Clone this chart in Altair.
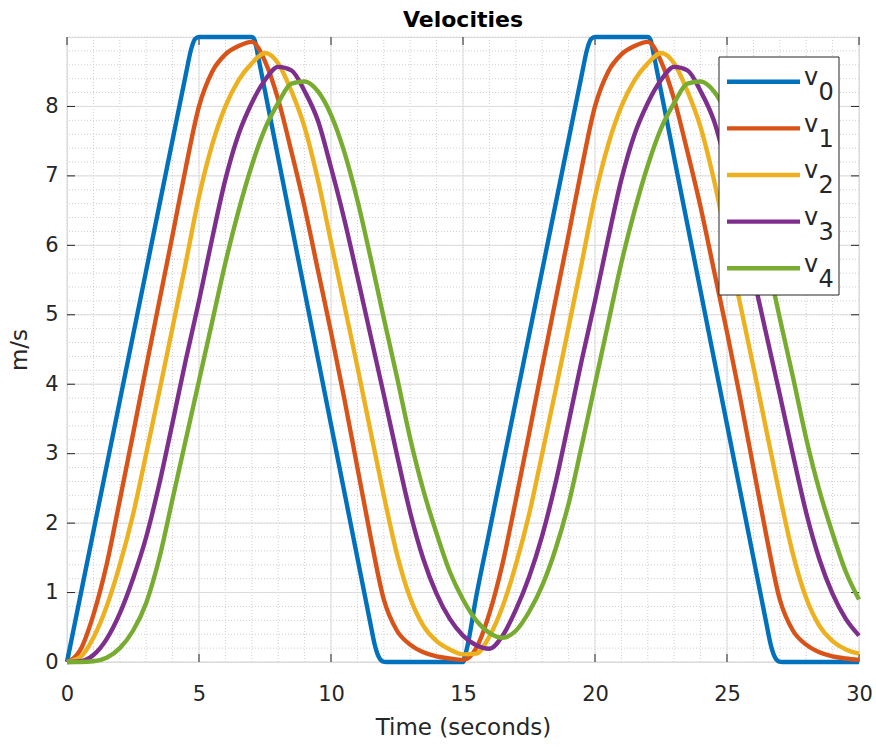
import altair as alt
import pandas as pd

# ---------------- data ----------------
series_names = ["v0", "v1", "v2", "v3", "v4"]
series_colors = ["#0072BD", "#D95319", "#EDB120", "#7E2F8E", "#77AC30"]

# leader (v0) time stamps and velocities
t_lead = [0, 0.5, 1, 1.5, 2, 2.5, 3, 3.5, 4, 4.5, 4.7, 4.85, 5,
          7, 7.1, 7.25, 7.5, 8, 8.5, 9, 9.5, 10, 10.5, 11, 11.5,
          11.65, 11.8, 11.95, 12.1, 15, 15.15,
          15.5, 16, 16.5, 17, 17.5, 18, 18.5, 19, 19.5, 19.7, 19.85, 20,
          22, 22.1, 22.25, 22.5, 23, 23.5, 24, 24.5, 25, 25.5, 26, 26.5,
          26.65, 26.8, 26.95, 27.1, 30]
v0 = [0.0, 0.94, 1.88, 2.82, 3.76, 4.70, 5.64, 6.58, 7.52, 8.46, 8.82, 8.97, 9.0,
      9.0, 8.96, 8.70, 8.22, 7.26, 6.30, 5.34, 4.38, 3.42, 2.46, 1.50, 0.54,
      0.26, 0.08, 0.01, 0.0, 0.0, 0.20,
      0.94, 1.88, 2.82, 3.76, 4.70, 5.64, 6.58, 7.52, 8.46, 8.82, 8.97, 9.0,
      9.0, 8.96, 8.70, 8.22, 7.26, 6.30, 5.34, 4.38, 3.42, 2.46, 1.50, 0.54,
      0.26, 0.08, 0.01, 0.0, 0.0]

# followers time stamps
t_follow = [0.0, 0.5, 1.0, 1.5, 2.0, 2.5, 3.0, 3.5, 4.0, 4.5, 5.0, 5.5, 6.0, 6.5, 7.0, 7.5,
            8.0, 8.5, 9.0, 9.5, 10.0, 10.5, 11.0, 11.5, 12.0, 12.5, 13.0, 13.5, 14.0, 14.5,
            15.0, 15.5, 16.0, 16.5, 17.0, 17.5, 18.0, 18.5, 19.0, 19.5, 20.0, 20.5, 21.0,
            21.5, 22.0, 22.5, 23.0, 23.5, 24.0, 24.5, 25.0, 25.5, 26.0, 26.5, 27.0, 27.5,
            28.0, 28.5, 29.0, 29.5, 30.0]

v1 = [0.00, 0.17, 0.68, 1.40, 2.33, 3.28, 4.25, 5.20, 6.15, 7.12, 8.00, 8.50, 8.75, 8.87, 8.93, 8.65,
      8.10, 7.35, 6.55, 5.65, 4.75, 3.80, 2.80, 1.80, 0.90, 0.45, 0.25, 0.14, 0.08, 0.05,
      0.03, 0.20, 0.70, 1.42, 2.33, 3.28, 4.25, 5.20, 6.15, 7.12, 8.00, 8.50, 8.75,
      8.87, 8.93, 8.65, 8.10, 7.35, 6.55, 5.65, 4.75, 3.80, 2.80, 1.80, 0.90, 0.45,
      0.25, 0.14, 0.08, 0.05, 0.03]

v2 = [0.00, 0.07, 0.35, 0.80, 1.40, 2.12, 3.00, 3.90, 4.82, 5.75, 6.70, 7.45, 8.00, 8.38, 8.62, 8.77,
      8.62, 8.22, 7.70, 6.95, 6.05, 5.15, 4.25, 3.32, 2.40, 1.55, 0.92, 0.52, 0.30, 0.18,
      0.11, 0.12, 0.37, 0.80, 1.40, 2.12, 3.00, 3.90, 4.82, 5.75, 6.70, 7.45, 8.00,
      8.38, 8.62, 8.77, 8.62, 8.22, 7.70, 6.95, 6.05, 5.15, 4.25, 3.32, 2.40, 1.55,
      0.92, 0.52, 0.30, 0.18, 0.12]

v3 = [0.00, 0.01, 0.10, 0.33, 0.70, 1.20, 1.80, 2.57, 3.45, 4.35, 5.20, 6.10, 6.95, 7.60, 8.05, 8.38,
      8.57, 8.52, 8.22, 7.80, 7.12, 6.38, 5.55, 4.70, 3.85, 2.98, 2.15, 1.48, 0.98, 0.62,
      0.38, 0.24, 0.19, 0.38, 0.75, 1.22, 1.82, 2.57, 3.45, 4.35, 5.20, 6.10, 6.95,
      7.60, 8.05, 8.38, 8.57, 8.52, 8.22, 7.80, 7.12, 6.38, 5.55, 4.70, 3.85, 2.98,
      2.15, 1.48, 0.98, 0.62, 0.38]

v4 = [0.00, 0.00, 0.01, 0.06, 0.20, 0.45, 0.85, 1.50, 2.35, 3.20, 4.05, 4.90, 5.75, 6.50, 7.15, 7.68,
      8.05, 8.33, 8.36, 8.22, 7.88, 7.35, 6.65, 5.82, 4.95, 4.10, 3.22, 2.47, 1.85, 1.30,
      0.90, 0.60, 0.42, 0.35, 0.45, 0.72, 1.10, 1.62, 2.28, 3.12, 4.00, 4.88, 5.75,
      6.50, 7.15, 7.68, 8.05, 8.33, 8.36, 8.22, 7.88, 7.35, 6.65, 5.82, 4.95, 4.10,
      3.22, 2.47, 1.85, 1.30, 0.90]

x_major = [0, 5, 10, 15, 20, 25, 30]
y_major = [0, 1, 2, 3, 4, 5, 6, 7, 8]
x_minor = [0, 1, 2, 3, 4, 5, 6, 7, 8, 9, 10, 11, 12, 13, 14, 15, 16, 17, 18, 19, 20,
           21, 22, 23, 24, 25, 26, 27, 28, 29, 30]
y_minor = [0.0, 0.2, 0.4, 0.6, 0.8, 1.0, 1.2, 1.4, 1.6, 1.8, 2.0, 2.2, 2.4, 2.6, 2.8,
           3.0, 3.2, 3.4, 3.6, 3.8, 4.0, 4.2, 4.4, 4.6, 4.8, 5.0, 5.2, 5.4, 5.6, 5.8,
           6.0, 6.2, 6.4, 6.6, 6.8, 7.0, 7.2, 7.4, 7.6, 7.8, 8.0, 8.2, 8.4, 8.6, 8.8, 9.0]

# ---------------- build table ----------------
rows = []
for ti, vi in zip(t_lead, v0):
    rows.append({"t": ti, "v": vi, "s": "v0"})
for name, vals in zip(series_names[1:], [v1, v2, v3, v4]):
    for ti, vi in zip(t_follow, vals):
        rows.append({"t": ti, "v": vi, "s": name})
df = pd.DataFrame(rows)

W, H = 792, 625
FONT = "DejaVu Sans"
TXT = "#262626"
TICK = 8
LW = 4.4

xs = alt.Scale(domain=[0, 30], nice=False, zero=False)
ys = alt.Scale(domain=[0, 9], nice=False, zero=False)

x_axis = alt.Axis(
    values=x_major, title="Time (seconds)", ticks=False, tickSize=0, domain=False,
    grid=False, labelFontSize=21, labelPadding=21, labelColor=TXT, labelFont=FONT,
    labelFlush=False, format="d", titleFontSize=23, titleFont=FONT, titleColor=TXT,
    titleFontWeight="normal", titlePadding=12)
y_axis = alt.Axis(
    values=y_major, title="m/s", ticks=False, tickSize=0, domain=False,
    grid=False, labelFontSize=21, labelPadding=9, labelColor=TXT, labelFont=FONT,
    labelFlush=False, format="d", titleFontSize=23, titleFont=FONT, titleColor=TXT,
    titleFontWeight="normal", titlePadding=13)

X_T = alt.X("t:Q", scale=xs, axis=x_axis, title="Time (seconds)")
Y_V = alt.Y("v:Q", scale=ys, axis=y_axis, title="m/s")


def gx():
    return alt.X("g:Q", scale=xs, axis=x_axis, title="Time (seconds)")


def gy():
    return alt.Y("g:Q", scale=ys, axis=y_axis, title="m/s")


one = alt.Data(values=[{}])

minor_x = alt.Chart(pd.DataFrame({"g": x_minor})).mark_rule(
    color="#cfcfcf", strokeWidth=1, strokeDash=[1, 2]).encode(x=gx())
minor_y = alt.Chart(pd.DataFrame({"g": y_minor})).mark_rule(
    color="#cfcfcf", strokeWidth=1, strokeDash=[1, 2]).encode(y=gy())
major_x = alt.Chart(pd.DataFrame({"g": x_major})).mark_rule(
    color="#dcdcdc", strokeWidth=1).encode(x=gx())
major_y = alt.Chart(pd.DataFrame({"g": y_major})).mark_rule(
    color="#dcdcdc", strokeWidth=1).encode(y=gy())

tick_bottom = alt.Chart(pd.DataFrame({"g": x_major})).mark_rule(color=TXT, strokeWidth=1).encode(
    x=gx(), y=alt.value(H), y2=alt.value(H - TICK))
tick_top = alt.Chart(pd.DataFrame({"g": x_major})).mark_rule(color=TXT, strokeWidth=1).encode(
    x=gx(), y=alt.value(0), y2=alt.value(TICK))
tick_left = alt.Chart(pd.DataFrame({"g": y_major})).mark_rule(color=TXT, strokeWidth=1).encode(
    y=gy(), x=alt.value(0), x2=alt.value(TICK))
tick_right = alt.Chart(pd.DataFrame({"g": y_major})).mark_rule(color=TXT, strokeWidth=1).encode(
    y=gy(), x=alt.value(W), x2=alt.value(W - TICK))

lines = alt.Chart(df).mark_line(strokeWidth=LW, interpolate="monotone").encode(
    x=X_T, y=Y_V,
    color=alt.Color("s:N", scale=alt.Scale(domain=series_names, range=series_colors), legend=None),
)

# ---------------- legend (drawn by hand) ----------------
LX0, LX1, LY0, LY1 = 652, 772, 20, 258
legend_layers = [
    alt.Chart(one).mark_rect(fill="white", stroke=TXT, strokeWidth=1).encode(
        x=alt.value(LX0), x2=alt.value(LX1), y=alt.value(LY0), y2=alt.value(LY1))
]
for i, (name, col) in enumerate(zip(series_names, series_colors)):
    ly = 44.7 + i * 46.65
    legend_layers.append(alt.Chart(one).mark_rule(color=col, strokeWidth=LW).encode(
        x=alt.value(660), x2=alt.value(733), y=alt.value(ly)))
    legend_layers.append(alt.Chart(one).mark_text(
        text="v", fontSize=24, font=FONT, color=TXT, align="left", baseline="alphabetic"
    ).encode(x=alt.value(737), y=alt.value(ly + 3.3)))
    legend_layers.append(alt.Chart(one).mark_text(
        text=name[1:], fontSize=24, font=FONT, color=TXT, align="left", baseline="alphabetic"
    ).encode(x=alt.value(751.5), y=alt.value(ly + 18.3)))

chart = alt.layer(
    minor_x, minor_y, major_x, major_y,
    tick_bottom, tick_top, tick_left, tick_right,
    lines, *legend_layers
).properties(
    width=W, height=H,
    title=alt.TitleParams("Velocities", fontSize=22, fontWeight="bold", font=FONT,
                          color="#000000", anchor="middle", frame="group", offset=8, dy=12),
    autosize=alt.AutoSizeParams(type="none"),
    padding={"left": 67, "top": 37, "right": 17, "bottom": 85},
).configure_view(stroke=TXT, strokeWidth=1).configure(background="white")

chart.save("out.html", embed_options={"renderer": "svg", "actions": False})
